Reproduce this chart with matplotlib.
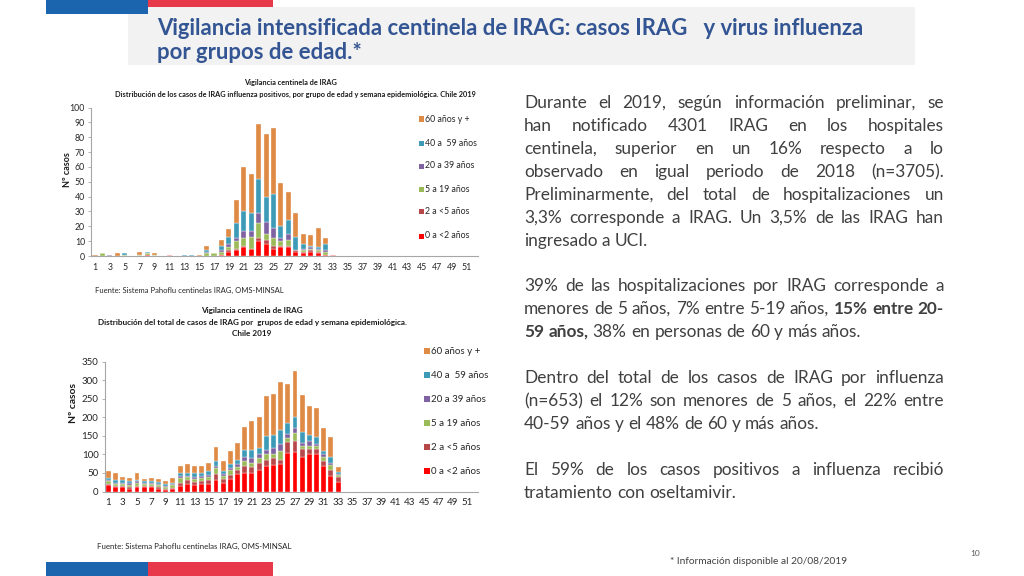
import matplotlib
matplotlib.use('Agg')
import matplotlib.pyplot as plt
from matplotlib.patches import Rectangle
from matplotlib.font_manager import FontProperties, findfont
import numpy as np

W, H = 1024, 576
fig = plt.figure(figsize=(10.24, 5.76), dpi=100)
fig.patch.set_facecolor('white')
renderer = fig.canvas.get_renderer()

def fx(x): return x / W
def fy(y): return 1 - y / H

def has_font(name):
    try:
        findfont(FontProperties(family=name), fallback_to_default=False)
        return True
    except Exception:
        return False

NARROW = 'Liberation Sans Narrow' if has_font('Liberation Sans Narrow') else 'Lato'
BODY = 'Lato'

# ---------------- data ----------------
weeks = np.arange(1, 53)
week_labels = [str(w) for w in range(1, 53, 2)]
age_groups = ['0 a <2 años', '2 a <5 años', '5 a 19 años', '20 a 39 años', '40 a  59 años', '60 años y +']
colors = ['#FF0000', '#B8474A', '#9BBB59', '#7E62A1', '#3D9BB8', '#DF8A45']

# Chart 1: casos IRAG influenza positivos, semanas 1-33
flu_0_2   = [0,0,0,0,0,0,0,1,0,0,1,0,0,0,0,0,0,1,3,4,6,5,10,8,5,6,6,3,2,3,2,1,1]
flu_2_5   = [0,0,0,0,0,0,0,0,0,0,0,0,0,0,0,0,0,0,1,1,1,0,2,3,2,1,1,1,1,1,1,0,0]
flu_5_19  = [0,2,0,0,1,0,1,1,1,0,0,0,0,0,0,2,2,2,2,5,5,8,10,4,5,3,4,0,1,1,1,2,0]
flu_20_39 = [0,0,1,0,0,0,0,0,0,0,0,0,0,0,0,1,0,1,2,2,5,4,7,8,7,2,4,0,1,1,1,1,0]
flu_40_59 = [0,0,0,0,1,0,0,1,0,0,0,0,1,1,0,1,0,3,5,10,13,12,23,17,23,8,9,9,3,1,1,4,0]
flu_60    = [1,0,0,2,0,0,2,0,1,0,0,0,0,0,1,3,0,4,5,16,30,26,37,42,44,29,19,16,7,7,13,4,0]

# Chart 2: total de casos IRAG, semanas 1-33
tot_0_2   = [17,13,11,6,11,12,12,6,5,7,15,20,18,20,20,31,24,34,47,51,51,58,70,72,74,103,107,92,100,100,70,41,25]
tot_2_5   = [4,3,4,6,4,3,3,6,3,2,9,11,8,7,11,17,10,11,11,18,16,18,15,18,12,30,28,23,15,15,13,16,14]
tot_5_19  = [6,5,5,6,7,6,6,6,5,9,12,7,9,9,9,15,9,12,9,12,11,14,16,11,22,10,23,9,9,7,9,15,6]
tot_20_39 = [4,3,3,4,5,3,2,3,3,3,7,5,5,6,5,7,5,6,7,11,12,11,11,16,19,13,12,6,11,6,8,4,3]
tot_40_59 = [5,7,8,5,4,5,5,5,4,3,6,6,9,7,11,11,6,11,11,20,22,17,39,36,40,30,31,30,18,18,9,16,4]
tot_60    = [18,18,7,9,18,4,8,7,8,12,20,25,20,21,22,40,29,36,45,63,79,82,107,109,128,105,125,100,77,79,62,54,14]

flu_series = [flu_0_2, flu_2_5, flu_5_19, flu_20_39, flu_40_59, flu_60]
tot_series = [tot_0_2, tot_2_5, tot_5_19, tot_20_39, tot_40_59, tot_60]

def pad(s):
    return np.array(list(s) + [0] * (52 - len(s)), dtype=float)

# ---------------- slide decoration ----------------
def rect_px(x0, y0, x1, y1, color, z=0):
    fig.patches.append(Rectangle((fx(x0), fy(y1)), (x1 - x0) / W, (y1 - y0) / H,
                                 transform=fig.transFigure, facecolor=color,
                                 edgecolor='none', zorder=z))

rect_px(128, 7, 915, 65, '#F2F2F2')
rect_px(46, 0, 148, 14, '#1B64AE', 1)
rect_px(148, 0, 273, 7, '#E8394A', 1)
rect_px(46, 562, 148, 576, '#1B64AE', 1)
rect_px(148, 562, 273, 576, '#E8394A', 1)

def text_width(s, fp):
    w, h, d = renderer.get_text_width_height_descent(s, fp, ismath=False)
    return w

def fit_size(s, family, weight, target):
    fp = FontProperties(family=family, weight=weight, size=20)
    return 20 * target / text_width(s, fp)

# title
t1 = 'Vigilancia intensificada centinela de IRAG: casos IRAG   y virus influenza'
t2 = 'por grupos de edad.*'
tsize = fit_size(t1, NARROW, 'bold', 709)
fig.text(fx(157), fy(35), t1, fontsize=tsize, fontweight='bold', family=NARROW,
         color='#335593', va='baseline', ha='left')
fig.text(fx(157), fy(59), t2, fontsize=tsize, fontweight='bold', family=NARROW,
         color='#335593', va='baseline', ha='left')

# ---------------- charts ----------------
def draw_chart(ax, series, ymax, ystep, tick_fs):
    bottom = np.zeros(52)
    for s, c, lab in zip(series, colors, age_groups):
        v = pad(s)
        ax.bar(weeks, v, width=0.68, bottom=bottom, color=c, edgecolor='white',
               linewidth=0.25, label=lab)
        bottom += v
    ax.set_xlim(0.5, 52.5)
    ax.set_ylim(0, ymax)
    ax.set_yticks(np.arange(0, ymax + 1, ystep))
    ax.set_xticks(np.arange(1, 53, 2))
    ax.set_xticklabels(week_labels)
    for sp in ['top', 'right']:
        ax.spines[sp].set_visible(False)
    for sp in ['left', 'bottom']:
        ax.spines[sp].set_color('#A6A6A6')
        ax.spines[sp].set_linewidth(0.8)
    ax.tick_params(axis='y', length=2.5, width=0.6, color='#A6A6A6', pad=2,
                   labelsize=tick_fs, labelcolor='#262626')
    ax.tick_params(axis='x', length=0, pad=5, labelsize=tick_fs, labelcolor='#262626')
    for lbl in ax.get_xticklabels() + ax.get_yticklabels():
        lbl.set_family(NARROW)
    ax.set_facecolor('none')

def legend_manual(x_sq, x_txt, ys, sq, fs):
    for lab, c, y in zip(age_groups[::-1], colors[::-1], ys):
        rect_px(x_sq, y - sq / 2, x_sq + sq, y + sq / 2, c, 3)
        fig.text(fx(x_txt), fy(y), lab, fontsize=fs, family=NARROW, color='#262626',
                 va='center', ha='left')

# chart 1
ax1 = fig.add_axes([fx(91.3), fy(256), (478 - 91.3) / W, (256 - 107.5) / H])
draw_chart(ax1, flu_series, 100, 10, 6.3)
ct1a = 'Vigilancia centinela de IRAG'
ct1b = 'Distribución de los casos de IRAG influenza positivos, por grupo de edad y semana epidemiológica. Chile 2019'
s1 = fit_size(ct1b, NARROW, 'bold', 358)
fig.text(fx(290), fy(82), ct1a, fontsize=s1, fontweight='bold', family=NARROW,
         ha='center', va='center', color='#1a1a1a')
fig.text(fx(295), fy(94), ct1b, fontsize=s1, fontweight='bold', family=NARROW,
         ha='center', va='center', color='#1a1a1a')
fig.text(fx(68), fy(170), 'Nº casos', rotation=90, fontsize=6.5, fontweight='bold',
         family=NARROW, ha='center', va='center', color='#1a1a1a')
legend_manual(419, 425, [119, 143, 166, 189, 212, 236], 5, 6.3)
fig.text(fx(95), fy(290), 'Fuente: Sistema Pahoflu centinelas IRAG, OMS-MINSAL',
         fontsize=fit_size('Fuente: Sistema Pahoflu centinelas IRAG, OMS-MINSAL', NARROW, 'normal', 190),
         family=NARROW, ha='left', va='center', color='#262626')

# chart 2
ax2 = fig.add_axes([fx(104.7), fy(491.5), (478.1 - 104.7) / W, (491.5 - 361.7) / H])
draw_chart(ax2, tot_series, 350, 50, 7)
ct2a = 'Vigilancia centinela de IRAG'
ct2b = 'Distribución del total de casos de IRAG por  grupos de edad y semana epidemiológica.'
ct2c = 'Chile 2019'
s2 = fit_size(ct2b, NARROW, 'bold', 310)
fig.text(fx(252), fy(311), ct2a, fontsize=s2, fontweight='bold', family=NARROW,
         ha='center', va='center', color='#1a1a1a')
fig.text(fx(252), fy(322.5), ct2b, fontsize=s2, fontweight='bold', family=NARROW,
         ha='center', va='center', color='#1a1a1a')
fig.text(fx(252), fy(334), ct2c, fontsize=s2, fontweight='bold', family=NARROW,
         ha='center', va='center', color='#1a1a1a')
fig.text(fx(73), fy(403), 'Nº casos', rotation=90, fontsize=7.5, fontweight='bold',
         family=NARROW, ha='center', va='center', color='#1a1a1a')
legend_manual(424, 431, [351, 375, 399, 423, 447, 471], 6, 7)
fig.text(fx(97), fy(546), 'Fuente: Sistema Pahoflu centinelas IRAG, OMS-MINSAL',
         fontsize=fit_size('Fuente: Sistema Pahoflu centinelas IRAG, OMS-MINSAL', NARROW, 'normal', 195),
         family=NARROW, ha='left', va='center', color='#262626')

# footer
fn = '* Información disponible al 20/08/2019'
fig.text(fx(670), fy(561), fn, fontsize=fit_size(fn, NARROW, 'normal', 178), family=NARROW,
         ha='left', va='center', color='#404040')
fig.text(fx(975), fy(554), '10', fontsize=6, family=NARROW, ha='center', va='center', color='#595959')

# ---------------- justified body text ----------------
B = True
paragraphs = [
    ([('Durante el 2019, según información preliminar, se', False)], True),
    ([('han notificado 4301 IRAG en los hospitales', False)], True),
    ([('centinela, superior en un 16% respecto a lo', False)], True),
    ([('observado en igual periodo de 2018 (n=3705).', False)], True),
    ([('Preliminarmente, del total de hospitalizaciones un', False)], True),
    ([('3,3% corresponde a IRAG. Un 3,5% de las IRAG han', False)], True),
    ([('ingresado a UCI.', False)], False),
    ([('39% de las hospitalizaciones por IRAG corresponde a', False)], True),
    ([('menores de 5 años, 7% entre 5-19 años,', False), ('15% entre 20-', B)], True),
    ([('59 años,', B), ('38% en personas de 60 y más años.', False)], False),
    ([('Dentro del total de los casos de IRAG por influenza', False)], True),
    ([('(n=653) el 12% son menores de 5 años, el 22% entre', False)], True),
    ([('40-59 años y el 48% de 60 y más años.', False)], False),
    ([('El 59% de los casos positivos a influenza recibió', False)], True),
    ([('tratamiento con oseltamivir.', False)], False),
]
baselines = [108, 131, 154, 177, 200, 223, 246, 291, 314, 337, 383, 406, 429, 475, 498]
X0, X1 = 524, 944
body_color = '#404040'

ref_fp = FontProperties(family=BODY, size=13)
widest = max(text_width(' '.join(t for t, _ in segs), ref_fp) for segs, _ in paragraphs)
bsize = min(13.0, 13.0 * (X1 - X0) / widest * 0.995)
fp_n = FontProperties(family=BODY, size=bsize)
fp_b = FontProperties(family=BODY, size=bsize, weight='bold')
space_w = text_width('a a', fp_n) - text_width('aa', fp_n)

for (segs, justify), yb in zip(paragraphs, baselines):
    words = []
    for t, bold in segs:
        for w in t.split():
            words.append((w, fp_b if bold else fp_n))
    widths = [text_width(w, fp) for w, fp in words]
    if justify and len(words) > 1:
        gap = (X1 - X0 - sum(widths)) / (len(words) - 1)
    else:
        gap = space_w
    x = X0
    for (w, fp), wd in zip(words, widths):
        fig.text(fx(x), fy(yb), w, fontproperties=fp, color=body_color,
                 ha='left', va='baseline')
        x += wd + gap

fig.savefig('out.png', dpi=100, facecolor='white')
